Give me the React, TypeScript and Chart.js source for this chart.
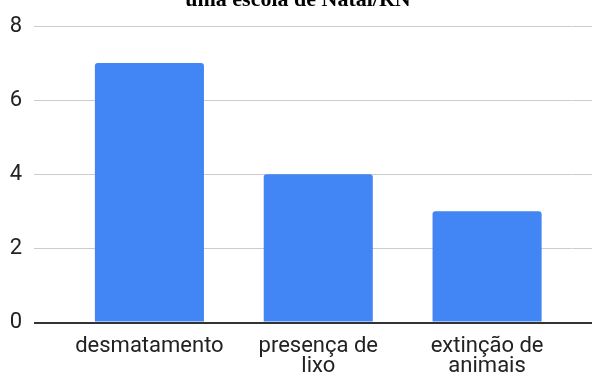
import React, { useEffect, useRef } from "react";
import { Chart, registerables } from "chart.js";

Chart.register(...registerables);

// Problems noticed by the students
const categories: (string | string[])[] = [
  "desmatamento",
  ["presença de", "lixo"],
  ["extinção de", "animais"],
];
const counts: number[] = [7, 4, 3];
const yTicks: number[] = [0, 2, 4, 6, 8];
const titleText = "uma escola de Natal/RN";

const BAR_BLUE = "#4285f4";
const GRID = "#cccccc";
const AXIS = "#333333";
const LABEL = "#222222";
const FONT = "Roboto";

const gridColor = (c: any) => (c.tick && c.tick.value === 0 ? AXIS : GRID);
const gridWidth = (c: any) => (c.tick && c.tick.value === 0 ? 2 : 1);
const useTicks = (scale: any) => {
  scale.ticks = yTicks.map((v) => ({ value: v }));
};

// Last line of the title, partly above the top edge of the canvas
const titleLine = {
  id: "titleLine",
  afterDraw(chart: any) {
    const { ctx } = chart;
    ctx.save();
    ctx.font = "bold 22px 'Liberation Serif', serif";
    ctx.fillStyle = "#000000";
    ctx.textAlign = "center";
    ctx.textBaseline = "alphabetic";
    ctx.fillText(titleText, 298, 6);
    ctx.restore();
  },
};

export default function App() {
  const ref = useRef<HTMLCanvasElement | null>(null);

  useEffect(() => {
    if (!ref.current) return;
    const chart = new Chart(ref.current, {
      type: "bar",
      data: {
        labels: categories,
        datasets: [
          {
            data: counts,
            backgroundColor: BAR_BLUE,
            borderWidth: 0,
            borderRadius: { topLeft: 3, topRight: 3, bottomLeft: 0, bottomRight: 0 },
            borderSkipped: false,
            categoryPercentage: 0.646,
            barPercentage: 1,
          },
        ],
      },
      options: {
        responsive: false,
        animation: false,
        layout: { padding: { left: 10, right: 0, top: 26, bottom: 0 } },
        plugins: {
          legend: { display: false },
          title: { display: false },
          tooltip: { enabled: false },
        },
        scales: {
          x: {
            z: 1,
            afterFit: (s: any) => {
              s.height = 53.5;
            },
            grid: { display: false, drawTicks: false, tickLength: 0 },
            border: { display: true, color: AXIS, width: 2 },
            ticks: {
              color: LABEL,
              font: { family: FONT, size: 22, lineHeight: 0.9 },
              padding: 14,
              maxRotation: 0,
              autoSkip: false,
            },
          },
          y: {
            min: 0,
            max: 8,
            afterBuildTicks: useTicks,
            afterFit: (s: any) => {
              s.width = 55;
            },
            border: { display: false },
            grid: {
              color: gridColor,
              lineWidth: gridWidth,
              drawTicks: true,
              tickLength: 31,
            },
            ticks: {
              color: LABEL,
              font: { family: FONT, size: 22 },
              padding: 12,
            },
          },
          y2: {
            position: "right",
            min: 0,
            max: 8,
            afterBuildTicks: useTicks,
            afterFit: (s: any) => {
              s.width = 20.5;
            },
            border: { display: false },
            grid: {
              drawOnChartArea: false,
              color: gridColor,
              lineWidth: gridWidth,
              drawTicks: true,
              tickLength: 20.5,
            },
            ticks: { display: false },
          },
        },
      },
      plugins: [titleLine],
    });
    return () => chart.destroy();
  }, []);

  return (
    <div style={{ position: "absolute", left: 0, top: 0, width: 592, height: 376, background: "#ffffff" }}>
      <canvas ref={ref} width={592} height={376} style={{ display: "block" }} />
    </div>
  );
}
